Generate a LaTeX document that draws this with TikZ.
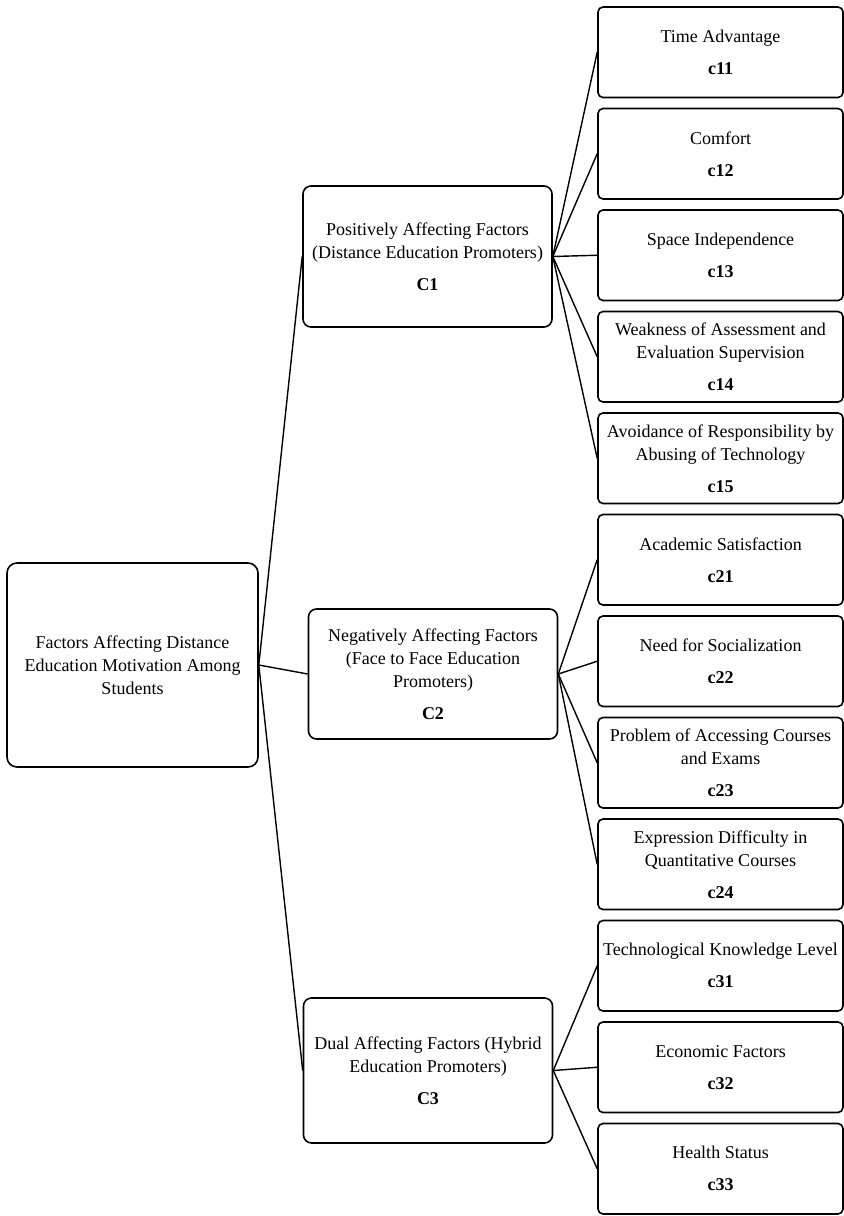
\documentclass[tikz,border=0pt]{standalone}
\usepackage{fontspec}
\setmainfont{Liberation Serif}
\usetikzlibrary{positioning}
\tikzset{
    root/.style = {rectangle, rounded corners=5pt, minimum width=125.5pt, minimum height=102pt, text centered, draw=black, line width=0.8pt, align=center},
    group/.style = {rectangle, rounded corners=4pt, minimum width=124.5pt, inner xsep=1pt, text centered, draw=black, line width=0.8pt, align=center},
    factor/.style = {rectangle, rounded corners=2.5pt, minimum width=122.5pt, minimum height=45.25pt, inner xsep=1pt, text centered, draw=black, line width=0.8pt, align=center},
    link/.style = {line width=0.7pt}
}

\begin{document}
\begin{tikzpicture}[x=0.5pt, y=-0.5pt, node distance=4.7pt, font=\fontsize{9}{11.5}\selectfont]

\useasboundingbox (0,0) rectangle (844,1216);

\node (root) [root] at (132.5,665) {Factors Affecting Distance\\Education Motivation Among\\Students};

\node (C1) [group, minimum height=70.5pt] at (427.5,256.5) {Positively Affecting Factors\\(Distance Education Promoters)\\[4.5pt]\textbf{C1}};
\node (C2) [group, minimum height=65pt] at (433,674) {Negatively Affecting Factors\\(Face to Face Education\\Promoters)\\[4.5pt]\textbf{C2}};
\node (C3) [group, minimum height=72.5pt] at (428,1070.5) {Dual Affecting Factors (Hybrid\\Education Promoters)\\[4.5pt]\textbf{C3}};

\node (c11) [factor] at (720.5,52.25) {Time Advantage\\[4.5pt]\textbf{c11}};
\node (c12) [factor, below=of c11] {Comfort\\[4.5pt]\textbf{c12}};
\node (c13) [factor, below=of c12] {Space Independence\\[4.5pt]\textbf{c13}};
\node (c14) [factor, below=of c13] {Weakness of Assessment and\\Evaluation Supervision\\[4.5pt]\textbf{c14}};
\node (c15) [factor, below=of c14] {Avoidance of Responsibility by\\Abusing of Technology\\[4.5pt]\textbf{c15}};
\node (c21) [factor, below=of c15] {Academic Satisfaction\\[4.5pt]\textbf{c21}};
\node (c22) [factor, below=of c21] {Need for Socialization\\[4.5pt]\textbf{c22}};
\node (c23) [factor, below=of c22] {Problem of Accessing Courses\\and Exams\\[4.5pt]\textbf{c23}};
\node (c24) [factor, below=of c23] {Expression Difficulty in\\Quantitative Courses\\[4.5pt]\textbf{c24}};
\node (c31) [factor, below=of c24] {Technological Knowledge Level\\[4.5pt]\textbf{c31}};
\node (c32) [factor, below=of c31] {Economic Factors\\[4.5pt]\textbf{c32}};
\node (c33) [factor, below=of c32] {Health Status\\[4.5pt]\textbf{c33}};

% Root to groups
\draw [link] (root.east) -- (C1.west);
\draw [link] (root.east) -- (C2.west);
\draw [link] (root.east) -- (C3.west);

% Positively affecting factors
\draw [link] (C1.east) -- (c11.west);
\draw [link] (C1.east) -- (c12.west);
\draw [link] (C1.east) -- (c13.west);
\draw [link] (C1.east) -- (c14.west);
\draw [link] (C1.east) -- (c15.west);

% Negatively affecting factors
\draw [link] (C2.east) -- (c21.west);
\draw [link] (C2.east) -- (c22.west);
\draw [link] (C2.east) -- (c23.west);
\draw [link] (C2.east) -- (c24.west);

% Dual affecting factors
\draw [link] (C3.east) -- (c31.west);
\draw [link] (C3.east) -- (c32.west);
\draw [link] (C3.east) -- (c33.west);

\end{tikzpicture}
\end{document}
